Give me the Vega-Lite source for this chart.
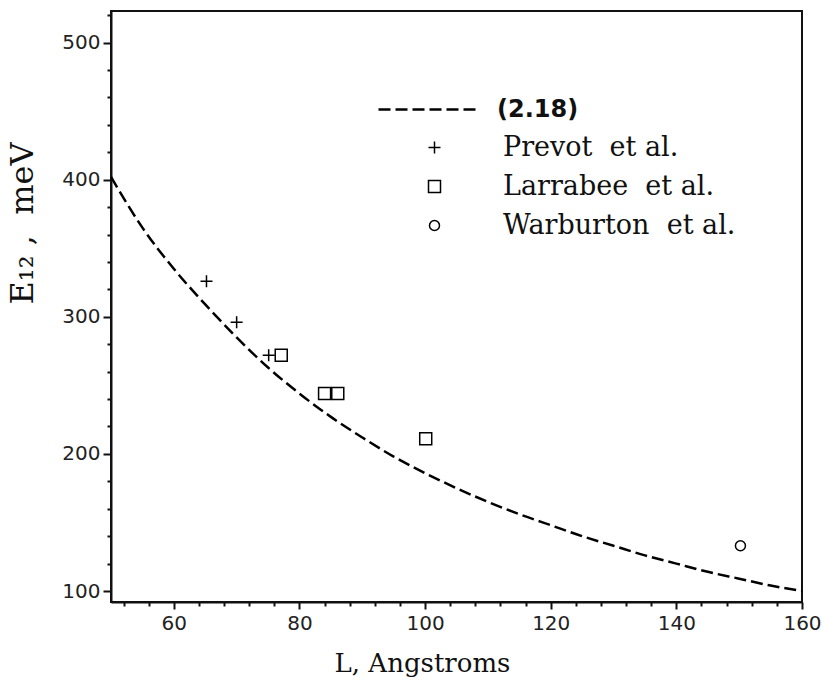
{
  "$schema": "https://vega.github.io/schema/vega-lite/v6.json",
  "width": 691,
  "height": 591,
  "autosize": "none",
  "padding": {"left": 111, "top": 11, "right": 20, "bottom": 91},
  "background": "white",
  "config": {
    "view": {"stroke": "#111", "strokeWidth": 2},
    "axis": {
      "grid": false,
      "domainColor": "#111",
      "domainWidth": 2,
      "tickColor": "#111",
      "tickWidth": 2,
      "labelFont": "DejaVu Sans",
      "labelFontSize": 20,
      "labelColor": "#222",
      "labelFlush": false,
      "labelBound": false,
      "labelOverlap": false,
      "titleFont": "DejaVu Serif",
      "titleFontWeight": "normal",
      "titleColor": "#111"
    }
  },
  "resolve": {"axis": {"x": "independent", "y": "independent"}},
  "layer": [
    {
      "data": {
        "values": [
          {"L": 50, "E": 402}, {"L": 55, "E": 365}, {"L": 60, "E": 335},
          {"L": 65, "E": 309}, {"L": 70, "E": 285}, {"L": 75, "E": 263},
          {"L": 80, "E": 244}, {"L": 85, "E": 227}, {"L": 90, "E": 212},
          {"L": 95, "E": 198}, {"L": 100, "E": 186}, {"L": 105, "E": 175},
          {"L": 110, "E": 165}, {"L": 115, "E": 156}, {"L": 120, "E": 148},
          {"L": 125, "E": 140}, {"L": 130, "E": 133}, {"L": 135, "E": 126},
          {"L": 140, "E": 120}, {"L": 145, "E": 114}, {"L": 150, "E": 109},
          {"L": 155, "E": 104}, {"L": 160, "E": 100}
        ]
      },
      "mark": {"type": "line", "color": "#000", "strokeWidth": 2.5, "interpolate": "monotone", "clip": true},
      "encoding": {
        "x": {
          "field": "L", "type": "quantitative",
          "scale": {"domain": [50, 160], "nice": false, "zero": false},
          "axis": {
            "orient": "bottom",
            "values": [60, 80, 100, 120, 140, 160],
            "tickSize": 7,
            "labelPadding": 4,
            "title": "L, Angstroms",
            "titleFontSize": 26,
            "titleX": 311,
            "titleY": 69,
            "titleAlign": "center",
            "titleBaseline": "alphabetic",
            "titleAnchor": null
          }
        },
        "y": {
          "field": "E", "type": "quantitative",
          "scale": {"domain": [92, 523], "nice": false, "zero": false},
          "axis": {
            "orient": "left",
            "values": [100, 200, 300, 400, 500],
            "tickSize": 8,
            "labelPadding": 3,
            "title": "E\u2081\u2082\u00a0,\u00a0 meV",
            "titleFontSize": 32,
            "titleX": -79,
            "titleY": 212,
            "titleAngle": 270,
            "titleAlign": "center",
            "titleBaseline": "alphabetic",
            "titleAnchor": null
          }
        },
        "strokeDash": {
          "datum": "(2.18)",
          "type": "nominal",
          "scale": {"domain": ["(2.18)"], "range": [[12, 5]]},
          "legend": {
            "title": null,
            "orient": "none",
            "legendX": 266,
            "legendY": 48,
            "padding": 0,
            "symbolType": "stroke",
            "symbolSize": 9604,
            "symbolOffset": 0,
            "symbolStrokeColor": "#000",
            "symbolStrokeWidth": 2.5,
            "symbolDash": [11, 3.5],
            "labelOffset": 19,
            "labelFont": "DejaVu Sans",
            "labelFontWeight": "bold",
            "labelFontSize": 24,
            "labelColor": "#111",
            "labelLimit": 300
          }
        }
      }
    },
    {
      "data": {
        "values": [
          {"L": 65.2, "E": 326, "source": "Prevot et al."},
          {"L": 70.0, "E": 296, "source": "Prevot et al."},
          {"L": 75.1, "E": 272, "source": "Prevot et al."},
          {"L": 77.1, "E": 272, "source": "Larrabee et al."},
          {"L": 84.0, "E": 244, "source": "Larrabee et al."},
          {"L": 86.1, "E": 244, "source": "Larrabee et al."},
          {"L": 100.1, "E": 211, "source": "Larrabee et al."},
          {"L": 150.2, "E": 133, "source": "Warburton et al."}
        ]
      },
      "mark": {"type": "point", "size": 4, "filled": false, "stroke": "#000", "strokeWidth": 1.5, "opacity": 1},
      "encoding": {
        "x": {
          "field": "L", "type": "quantitative",
          "axis": {
            "orient": "bottom",
            "values": [52,56,64,68,72,76,84,88,92,96,104,108,112,116,124,128,132,136,144,148,152,156],
            "tickSize": 4,
            "labels": false,
            "domain": false,
            "title": null
          }
        },
        "y": {
          "field": "E", "type": "quantitative",
          "axis": {
            "orient": "left",
            "values": [120,140,160,180,220,240,260,280,320,340,360,380,420,440,460,480,520],
            "tickSize": 4,
            "labels": false,
            "domain": false,
            "title": null
          }
        },
        "shape": {
          "field": "source", "type": "nominal",
          "scale": {
            "domain": ["Prevot et al.", "Larrabee et al.", "Warburton et al."],
            "range": [
              "M-6,0H6M0,-6V6",
              "M-6,-6H6V6H-6Z",
              "M-5,0A5,5,0,1,1,5,0A5,5,0,1,1,-5,0Z"
            ]
          },
          "legend": {
            "title": null,
            "orient": "none",
            "legendX": 310,
            "legendY": 123,
            "padding": 0,
            "symbolSize": 4,
            "symbolOffset": 0,
            "symbolStrokeColor": "#000",
            "symbolStrokeWidth": 1.5,
            "symbolFillColor": "transparent",
            "labelOffset": 55,
            "labelFont": "DejaVu Serif",
            "labelFontSize": 27,
            "labelColor": "#111",
            "labelLimit": 400,
            "rowPadding": 11,
            "labelExpr": "datum.label === 'Prevot et al.' ? 'Prevot\u00a0 et al.' : datum.label === 'Larrabee et al.' ? 'Larrabee\u00a0 et al.' : datum.label === 'Warburton et al.' ? 'Warburton\u00a0 et al.' : datum.label"
          }
        }
      }
    }
  ]
}
